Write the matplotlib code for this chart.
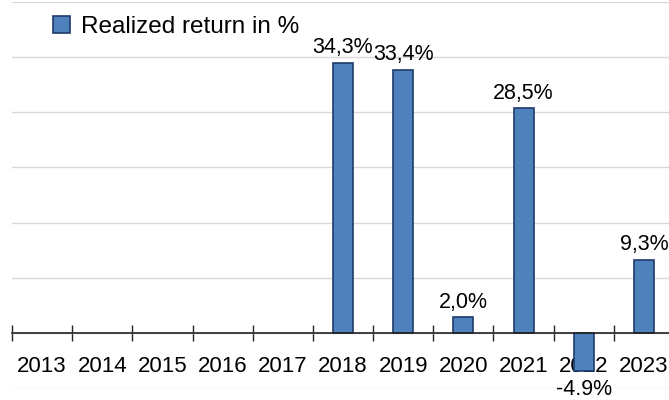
import matplotlib.pyplot as plt
import numpy as np

plt.rcParams['font.family'] = ['Liberation Sans', 'DejaVu Sans']

years = ['2013', '2014', '2015', '2016', '2017', '2018', '2019', '2020', '2021', '2022', '2023']
returns = [np.nan, np.nan, np.nan, np.nan, np.nan, 34.3, 33.4, 2.0, 28.5, -4.9, 9.3]
labels = ['', '', '', '', '', '34,3%', '33,4%', '2,0%', '28,5%', '-4.9%', '9,3%']

fill = '#4F81BD'
edge = '#1F3B6B'

fig = plt.figure(figsize=(6.69, 4.0), dpi=100)
ax = fig.add_axes([12 / 669, 12 / 400, 662 / 669, 386 / 400])

x = np.arange(len(years))
bars = ax.bar(x, returns, width=1 / 3, color=fill, edgecolor=edge, linewidth=1.2,
              label='Realized return in %', zorder=3)

# value labels, above positive bars and below negative ones
for xi, v, lab in zip(x, returns, labels):
    if np.isnan(v):
        continue
    if v >= 0:
        ax.annotate(lab, (xi, v), xytext=(0, 3.2), textcoords='offset points',
                    ha='center', va='bottom', fontsize=15.5)
    else:
        ax.annotate(lab, (xi, v), xytext=(0, -5.5), textcoords='offset points',
                    ha='center', va='top', fontsize=15.5)

ax.set_xlim(-0.5, len(years) - 0.5)
ax.set_ylim(-7, 42)
ax.set_yticks(np.arange(-7, 43, 7))
ax.yaxis.grid(True, color='#D9D9D9', linewidth=1.0, zorder=0)
ax.tick_params(axis='y', left=False, labelleft=False)

for s in ['top', 'right', 'left']:
    ax.spines[s].set_visible(False)
ax.spines['bottom'].set_position(('data', 0))
ax.spines['bottom'].set_color('#222222')
ax.spines['bottom'].set_linewidth(1.2)
ax.spines['bottom'].set_zorder(4)

ax.set_xticks(x)
ax.set_xticklabels(years, fontsize=16)
ax.set_xticks(np.arange(-0.5, len(years), 1), minor=True)
ax.tick_params(axis='x', which='major', length=0, pad=17)
ax.tick_params(axis='x', which='minor', direction='inout', length=11.5, width=1.0, color='#222222')

ax.legend(loc='center left', bbox_to_anchor=(53 / 669, 1 - 27 / 400),
          bbox_transform=fig.transFigure, frameon=False, fontsize=17.5,
          handlelength=0.7, handleheight=0.7, handletextpad=0.45,
          borderpad=0, borderaxespad=0)

fig.savefig('out.png', dpi=100)
